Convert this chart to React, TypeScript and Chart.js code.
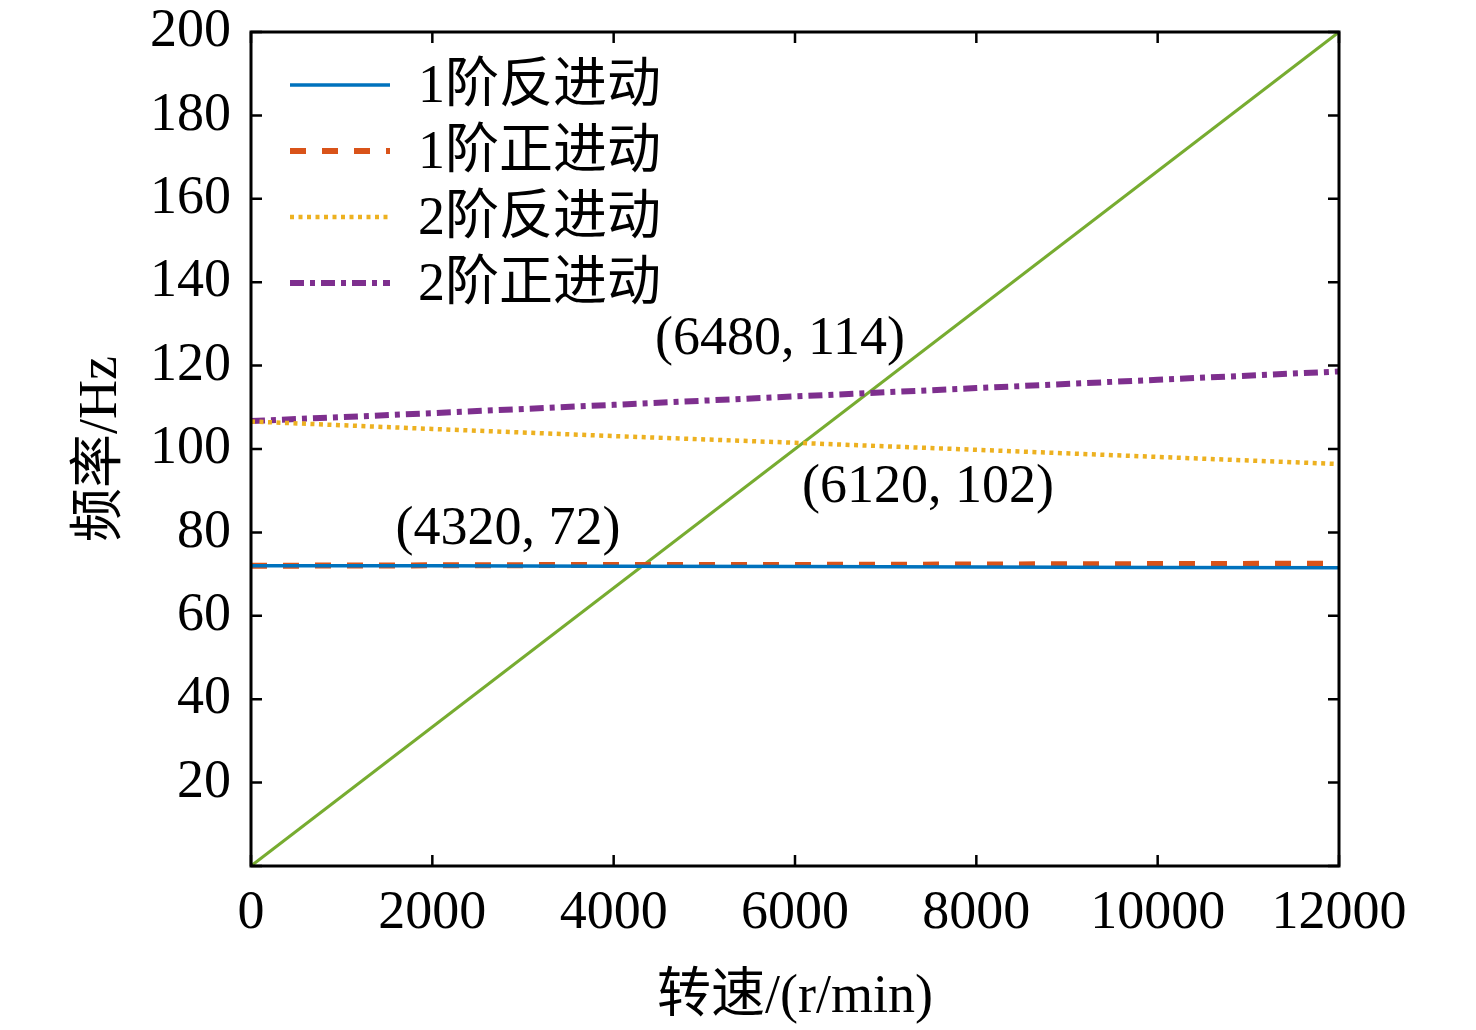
import React, { useEffect, useRef } from "react";
import Chart from "chart.js/auto";

// rotating speed (r/min) at which the modal curves were read
const rpm = [0, 2000, 4000, 6000, 8000, 10000, 12000];
const backward1 = [72.0, 72.0, 71.9, 71.8, 71.7, 71.6, 71.5];
const forward1 = [72.0, 72.1, 72.2, 72.2, 72.3, 72.4, 72.5];
const backward2 = [106.6, 104.8, 103.1, 101.5, 99.8, 98.1, 96.4];
const forward2 = [106.7, 108.6, 110.6, 112.6, 114.6, 116.6, 118.6];
// excitation line (1x rotating frequency)
const excitationRpm = [0, 12000];
const excitationHz = [0, 200];

const seriesNames = ["1阶反进动", "1阶正进动", "2阶反进动", "2阶正进动"];

// crossing-point notes, placed in data coordinates
const notes = [
  { text: "(6480, 114)", x: 5835, y: 126.1 },
  { text: "(6120, 102)", x: 7467, y: 90.6 },
  { text: "(4320, 72)", x: 2835, y: 80.6 },
];

const FONT = '"Liberation Serif", "Noto Sans CJK SC", serif';
const FS = 54;

function pts(xs: number[], ys: number[]) {
  return xs.map((x, i) => ({ x, y: ys[i] }));
}

const framePlugin = {
  id: "frame",
  afterDatasetsDraw(chart: any) {
    const { ctx, chartArea: a, scales } = chart;
    ctx.save();
    ctx.strokeStyle = "#000";
    ctx.lineWidth = 3;
    ctx.strokeRect(a.left, a.top, a.right - a.left, a.bottom - a.top);

    // inward ticks on all four sides
    const tl = 11;
    ctx.lineWidth = 2.5;
    ctx.beginPath();
    scales.x.ticks.forEach((t: any) => {
      const px = scales.x.getPixelForValue(t.value);
      ctx.moveTo(px, a.bottom);
      ctx.lineTo(px, a.bottom - tl);
      ctx.moveTo(px, a.top);
      ctx.lineTo(px, a.top + tl);
    });
    scales.y.ticks.forEach((t: any) => {
      const py = scales.y.getPixelForValue(t.value);
      ctx.moveTo(a.left, py);
      ctx.lineTo(a.left + tl, py);
      ctx.moveTo(a.right, py);
      ctx.lineTo(a.right - tl, py);
    });
    ctx.stroke();

    // notes
    ctx.fillStyle = "#000";
    ctx.font = `${FS}px ${FONT}`;
    ctx.textAlign = "center";
    ctx.textBaseline = "middle";
    notes.forEach((n) => {
      ctx.fillText(n.text, scales.x.getPixelForValue(n.x), scales.y.getPixelForValue(n.y));
    });

    // legend inside the plot, top-left
    let row = 0;
    chart.data.datasets.forEach((ds: any) => {
      if (!ds.label) return;
      const y = a.top + 53 + row * 66;
      ctx.strokeStyle = ds.borderColor;
      ctx.lineWidth = ds.borderWidth;
      ctx.setLineDash(ds.borderDash || []);
      ctx.lineCap = "butt";
      ctx.beginPath();
      ctx.moveTo(a.left + 39, y);
      ctx.lineTo(a.left + 139, y);
      ctx.stroke();
      ctx.setLineDash([]);
      ctx.textAlign = "left";
      ctx.fillText(ds.label, a.left + 167, y + 3);
      row++;
    });
    ctx.restore();
  },
};

export default function App() {
  const canvasRef = useRef<HTMLCanvasElement | null>(null);
  const chartRef = useRef<Chart | null>(null);

  useEffect(() => {
    document.body.style.margin = "0";
    if (!canvasRef.current) return;
    if (chartRef.current) chartRef.current.destroy();

    chartRef.current = new Chart(canvasRef.current, {
      type: "line",
      data: {
        datasets: [
          {
            label: seriesNames[0],
            data: pts(rpm, backward1),
            borderColor: "#0072BD",
            borderWidth: 3.5,
          },
          {
            label: seriesNames[1],
            data: pts(rpm, forward1),
            borderColor: "#D95319",
            borderWidth: 6,
            borderDash: [16, 16],
          },
          {
            label: seriesNames[2],
            data: pts(rpm, backward2),
            borderColor: "#EDB120",
            borderWidth: 4.5,
            borderDash: [4, 4.5],
          },
          {
            label: seriesNames[3],
            data: pts(rpm, forward2),
            borderColor: "#7E2F8E",
            borderWidth: 6,
            borderDash: [14, 6, 5, 6],
          },
          {
            label: "",
            data: pts(excitationRpm, excitationHz),
            borderColor: "#77AC30",
            borderWidth: 3,
          },
        ],
      },
      options: {
        responsive: false,
        animation: false,
        devicePixelRatio: 1,
        elements: { point: { radius: 0 }, line: { tension: 0 } },
        layout: { padding: { top: 32, right: 137, left: 0, bottom: 0 } },
        plugins: { legend: { display: false }, tooltip: { enabled: false } },
        scales: {
          x: {
            type: "linear",
            min: 0,
            max: 12000,
            grid: { display: false, drawTicks: false },
            border: { display: false },
            ticks: {
              stepSize: 2000,
              color: "#000",
              font: { family: FONT, size: FS },
              padding: 15,
              maxRotation: 0,
              callback: (v: any) => String(v),
            },
            title: {
              display: true,
              text: "转速/(r/min)",
              color: "#000",
              font: { family: FONT, size: FS },
              padding: { top: 0, bottom: 0 },
            },
            afterFit: (s: any) => {
              s.height = 164;
              s.paddingLeft = 0;
              s.paddingRight = 0;
            },
          },
          y: {
            type: "linear",
            min: 0,
            max: 200,
            grid: { display: false, drawTicks: false },
            border: { display: false },
            ticks: {
              stepSize: 20,
              color: "#000",
              font: { family: FONT, size: FS },
              padding: 20,
              callback: (v: any) => (v === 0 ? "" : String(v)),
            },
            title: {
              display: true,
              text: "频率/Hz",
              color: "#000",
              font: { family: FONT, size: FS },
              padding: { top: 69, bottom: 0 },
            },
            afterFit: (s: any) => {
              s.width = 251;
              s.paddingTop = 0;
              s.paddingBottom = 0;
            },
          },
        },
      },
      plugins: [framePlugin],
    });

    return () => {
      if (chartRef.current) chartRef.current.destroy();
      chartRef.current = null;
    };
  }, []);

  return (
    <div style={{ position: "absolute", left: 0, top: 0, width: 1476, height: 1030, background: "#fff" }}>
      <canvas ref={canvasRef} width={1476} height={1030} />
    </div>
  );
}
